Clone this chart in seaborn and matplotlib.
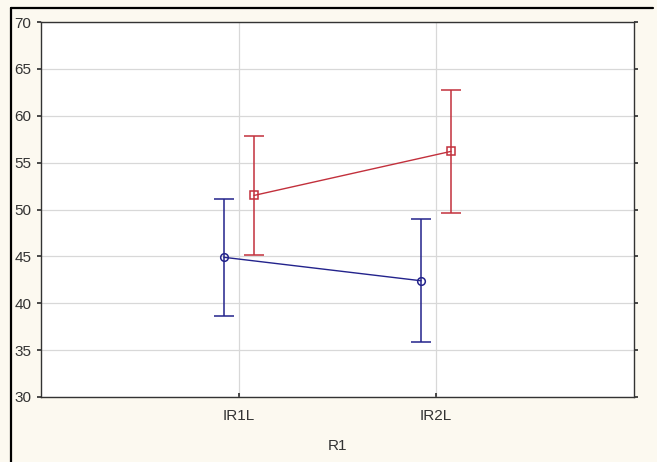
import matplotlib
matplotlib.use("Agg")
import matplotlib.pyplot as plt
import seaborn as sns
import pandas as pd
import numpy as np
from matplotlib.lines import Line2D

categories = ["IR1L", "IR2L"]
blue_mean = [44.9, 42.4]
blue_low = [38.6, 35.9]
blue_high = [51.1, 49.0]
red_mean = [51.5, 56.2]
red_low = [45.1, 49.6]
red_high = [57.8, 62.7]

sns.set_theme(style="white")
plt.rcParams['font.family'] = ['Liberation Sans', 'DejaVu Sans']

bg = "#fcf9f0"
fig = plt.figure(figsize=(6.57, 4.62), dpi=100, facecolor=bg)
ax = fig.add_axes([41/657, 1-397/462, (634-41)/657, (397-22)/462])
ax.set_facecolor("white")

blue = "#23238c"
red = "#c2303c"
off = 0.076
rows = []
for i, c in enumerate(categories):
    rows.append(dict(x=i - off, y=blue_mean[i], lo=blue_low[i], hi=blue_high[i], g="blue"))
    rows.append(dict(x=i + off, y=red_mean[i], lo=red_low[i], hi=red_high[i], g="red"))
df = pd.DataFrame(rows)

pal = {"blue": blue, "red": red}
sns.lineplot(data=df, x="x", y="y", hue="g", palette=pal, legend=False, ax=ax,
             linewidth=1.0, zorder=3)
for g, mk in [("blue", "o"), ("red", "s")]:
    d = df[df.g == g]
    ax.errorbar(d.x, d.y, yerr=[d.y - d.lo, d.hi - d.y], fmt="none", ecolor=pal[g],
                elinewidth=1.1, capsize=7, capthick=1.1, zorder=3)
    ax.plot(d.x, d.y, linestyle="none", marker=mk, markersize=5.5, markerfacecolor="none",
            markeredgecolor=pal[g], markeredgewidth=1.1, zorder=4)

ax.set_xlim(-1.005, 2.005)
ax.set_ylim(30, 70)
ax.set_xticks(range(len(categories)))
ax.set_xticklabels(categories)
ax.set_yticks(np.arange(30, 71, 5))
ax.grid(True, color="#d8d8d8", linewidth=0.9)
ax.set_axisbelow(True)
for s in ax.spines.values():
    s.set_color("#333333")
    s.set_linewidth(1.0)
ax.tick_params(axis="y", which="both", left=True, right=True, direction="out", length=3,
               color="#333333", labelsize=11, labelcolor="#333333", pad=4)
ax.tick_params(axis="x", bottom=True, direction="in", length=3, color="#333333",
               labelsize=11, labelcolor="#333333", pad=9)
ax.set_xlabel("R1", fontsize=11, color="#333333", labelpad=11)
ax.set_ylabel("")

fig.lines.append(Line2D([11/657, 11/657], [0, 1 - 8/462], transform=fig.transFigure,
                        color="black", linewidth=1.6))
fig.lines.append(Line2D([11/657, 653/657], [1 - 8/462, 1 - 8/462], transform=fig.transFigure,
                        color="black", linewidth=1.6))

fig.savefig("out.png", dpi=100, facecolor=bg)
